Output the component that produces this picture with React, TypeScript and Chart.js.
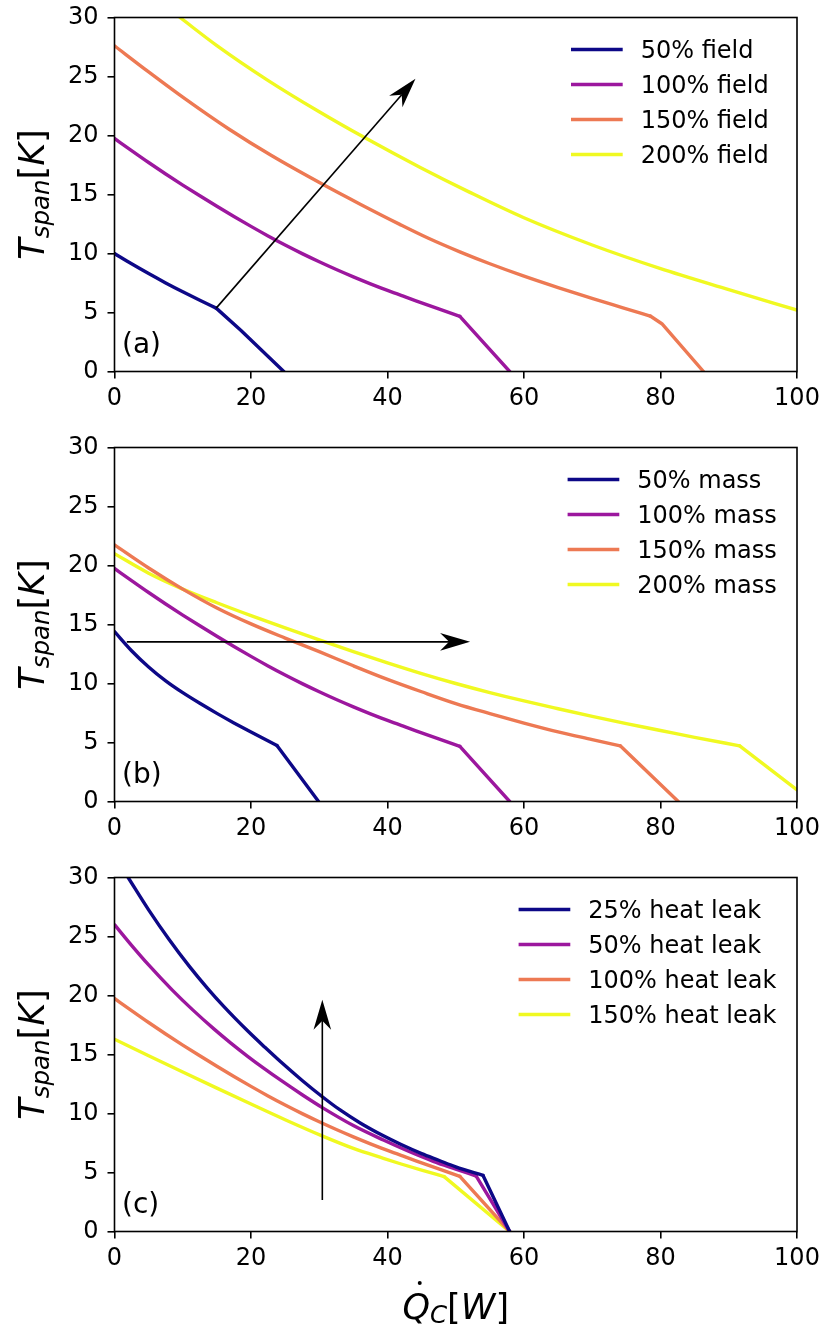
import { useEffect, useRef } from "react";
import { Chart, registerables } from "chart.js";

Chart.register(...registerables);

// ---------- colours (plasma colormap samples) ----------
const COLORS = ["#0d0887", "#9c179e", "#ed7953", "#f0f921"];

// ---------- ticks ----------
const X_TICKS = [0, 20, 40, 60, 80, 100];
const Y_TICKS = [0, 5, 10, 15, 20, 25, 30];

// ---------- shared reference curve (100 %) ----------
const Q_100 = [0, 2.5, 5, 7.5, 10, 12.5, 15, 17.5, 20, 22.5, 25, 27.5, 30, 32.5, 35, 37.5, 40, 42.5, 45, 47.5, 50.6];
const T_100 = [19.75, 18.72, 17.71, 16.74, 15.8, 14.89, 14.0, 13.14, 12.3, 11.49, 10.72, 9.99, 9.3, 8.64, 8.02, 7.43, 6.87, 6.34, 5.82, 5.3, 4.68];
const Q_100_TAIL = [50.6, 57.9];
const T_100_TAIL = [4.68, 0];

// ---------- panel (a): field ----------
const FIELD_LABELS = ["50% field", "100% field", "150% field", "200% field"];
const FIELD_50_Q = [0, 2.5, 5, 7.5, 10, 12.5, 14.9];
const FIELD_50_T = [10, 9.125, 8.3, 7.51, 6.76, 6.04, 5.37];
const FIELD_50_TAIL_Q = [14.9, 18.5, 24.8];
const FIELD_50_TAIL_T = [5.37, 3.5, 0];
const FIELD_150_Q = [0, 5, 10, 16.8, 23, 30.7, 36, 41.8, 46, 50.6, 55, 59.9, 65, 70.2, 74.5, 78.5];
const FIELD_150_T = [27.6, 25.39, 23.25, 20.53, 18.3, 15.8, 14.18, 12.47, 11.29, 10.14, 9.13, 8.1, 7.11, 6.15, 5.4, 4.7];
const FIELD_150_TAIL_Q = [78.5, 80.2, 86.3];
const FIELD_150_TAIL_T = [4.7, 4.05, 0];
const FIELD_200_Q = [9.6, 15, 22.3, 30, 36.7, 44.8, 52, 59.9, 70, 79.9, 90, 100];
const FIELD_200_T = [30, 27.62, 24.74, 22.01, 19.8, 17.29, 15.2, 13.05, 10.72, 8.74, 6.94, 5.2];
const ARROW_A_FROM = [14.9, 5.37];
const ARROW_A_TO = [44.1, 24.8];

// ---------- panel (b): mass ----------
const MASS_LABELS = ["50% mass", "100% mass", "150% mass", "200% mass"];
const MASS_50_Q = [0, 2.5, 5, 7.5, 10, 12.5, 15, 17.5, 20, 23.8];
const MASS_50_T = [14.4, 12.78, 11.4, 10.22, 9.22, 8.32, 7.47, 6.66, 5.88, 4.74];
const MASS_50_TAIL_Q = [23.8, 29.9];
const MASS_50_TAIL_T = [4.74, 0];
const MASS_150_Q = [0, 5, 10, 15, 20, 25, 30, 35, 40, 45, 50, 55, 60, 65, 70, 74.1];
const MASS_150_T = [21.75, 19.79, 18.0, 16.4, 15.05, 13.85, 12.7, 11.5, 10.35, 9.3, 8.3, 7.45, 6.65, 5.9, 5.25, 4.72];
const MASS_150_TAIL_Q = [74.1, 82.6];
const MASS_150_TAIL_T = [4.72, 0];
const MASS_200_Q = [0, 5, 10, 15, 20, 25, 30, 35, 40, 45, 50, 55, 60, 65, 70, 75, 80, 85, 91.6];
const MASS_200_T = [21.0, 19.35, 18.0, 16.84, 15.75, 14.71, 13.7, 12.71, 11.75, 10.84, 10.0, 9.23, 8.52, 7.86, 7.22, 6.6, 6.02, 5.43, 4.72];
const MASS_200_TAIL_Q = [91.6, 100];
const MASS_200_TAIL_T = [4.72, 0.99];
const ARROW_B_FROM = [1.8, 13.53];
const ARROW_B_TO = [52.1, 13.53];

// ---------- panel (c): heat leak ----------
const LEAK_LABELS = ["25% heat leak", "50% heat leak", "100% heat leak", "150% heat leak"];
const LEAK_25_Q = [2, 5, 8, 11, 13.6, 16, 19.46, 22, 24.35, 27.5, 30.45, 33, 36, 39.4, 42, 45, 47.5, 50, 54];
const LEAK_25_T = [30, 27.26, 24.75, 22.45, 20.63, 19.08, 17.03, 15.63, 14.38, 12.8, 11.42, 10.32, 9.2, 8.11, 7.37, 6.6, 6.04, 5.48, 4.75];
const LEAK_25_TAIL_Q = [54, 57.9];
const LEAK_25_TAIL_T = [4.75, 0];
const LEAK_50_Q = [0, 2.5, 5, 8.47, 11.5, 14.6, 17, 19.46, 22, 24.35, 27.5, 30.45, 35, 39.4, 43, 46.7, 50, 53];
const LEAK_50_T = [26.0, 24.25, 22.59, 20.46, 18.76, 17.15, 15.99, 14.87, 13.78, 12.82, 11.59, 10.5, 8.98, 7.75, 6.82, 5.95, 5.29, 4.7];
const LEAK_50_TAIL_Q = [53, 57.9];
const LEAK_50_TAIL_T = [4.7, 0];
const LEAK_150_Q = [0, 5, 10, 15, 20, 25, 30.5, 35, 39.4, 42, 45, 48.3];
const LEAK_150_T = [16.3, 14.9, 13.52, 12.15, 10.8, 9.47, 8.08, 7.04, 6.2, 5.72, 5.2, 4.65];
const LEAK_150_TAIL_Q = [48.3, 57.9];
const LEAK_150_TAIL_T = [4.65, 0];
const ARROW_C_FROM = [30.45, 2.67];
const ARROW_C_TO = [30.45, 19.65];

type Series = { label: string; q: number[]; t: number[]; tq: number[]; tt: number[] };
type PanelDef = {
  tag: string;
  height: number;
  series: Series[];
  arrowFrom: number[];
  arrowTo: number[];
  legendTextX: number;
  xTitle: boolean;
};

const PANELS: PanelDef[] = [
  {
    tag: "(a)",
    height: 430,
    series: [
      { label: FIELD_LABELS[0], q: FIELD_50_Q, t: FIELD_50_T, tq: FIELD_50_TAIL_Q, tt: FIELD_50_TAIL_T },
      { label: FIELD_LABELS[1], q: Q_100, t: T_100, tq: Q_100_TAIL, tt: T_100_TAIL },
      { label: FIELD_LABELS[2], q: FIELD_150_Q, t: FIELD_150_T, tq: FIELD_150_TAIL_Q, tt: FIELD_150_TAIL_T },
      { label: FIELD_LABELS[3], q: FIELD_200_Q, t: FIELD_200_T, tq: [], tt: [] },
    ],
    arrowFrom: ARROW_A_FROM,
    arrowTo: ARROW_A_TO,
    legendTextX: 640.7,
    xTitle: false,
  },
  {
    tag: "(b)",
    height: 430,
    series: [
      { label: MASS_LABELS[0], q: MASS_50_Q, t: MASS_50_T, tq: MASS_50_TAIL_Q, tt: MASS_50_TAIL_T },
      { label: MASS_LABELS[1], q: Q_100, t: T_100, tq: Q_100_TAIL, tt: T_100_TAIL },
      { label: MASS_LABELS[2], q: MASS_150_Q, t: MASS_150_T, tq: MASS_150_TAIL_Q, tt: MASS_150_TAIL_T },
      { label: MASS_LABELS[3], q: MASS_200_Q, t: MASS_200_T, tq: MASS_200_TAIL_Q, tt: MASS_200_TAIL_T },
    ],
    arrowFrom: ARROW_B_FROM,
    arrowTo: ARROW_B_TO,
    legendTextX: 637.3,
    xTitle: false,
  },
  {
    tag: "(c)",
    height: 470,
    series: [
      { label: LEAK_LABELS[0], q: LEAK_25_Q, t: LEAK_25_T, tq: LEAK_25_TAIL_Q, tt: LEAK_25_TAIL_T },
      { label: LEAK_LABELS[1], q: LEAK_50_Q, t: LEAK_50_T, tq: LEAK_50_TAIL_Q, tt: LEAK_50_TAIL_T },
      { label: LEAK_LABELS[2], q: Q_100, t: T_100, tq: Q_100_TAIL, tt: T_100_TAIL },
      { label: LEAK_LABELS[3], q: LEAK_150_Q, t: LEAK_150_T, tq: LEAK_150_TAIL_Q, tt: LEAK_150_TAIL_T },
    ],
    arrowFrom: ARROW_C_FROM,
    arrowTo: ARROW_C_TO,
    legendTextX: 588.3,
    xTitle: true,
  },
];

const FONT = "'DejaVu Sans', 'Liberation Sans', sans-serif";
const WIDTH = 823;
const PAD_TOP = 17.5;
const PLOT_H = 354;
const AXIS_LEFT = 114.5;
const PAD_RIGHT = 26;
const LINE_W = 3.4;

type Part = { s: string; italic?: boolean; sub?: boolean };

function partFont(p: Part, size: number) {
  const sz = p.sub ? size * 0.7 : size;
  return `${p.italic ? "italic " : ""}${sz}px ${FONT}`;
}

function mathWidth(ctx: CanvasRenderingContext2D, parts: Part[], size: number) {
  let w = 0;
  for (const p of parts) {
    ctx.font = partFont(p, size);
    w += ctx.measureText(p.s).width;
  }
  return w;
}

function drawMath(ctx: CanvasRenderingContext2D, parts: Part[], size: number, x0: number, subDrop: number) {
  let x = x0;
  const starts: number[] = [];
  for (const p of parts) {
    ctx.font = partFont(p, size);
    ctx.textBaseline = "alphabetic";
    ctx.textAlign = "left";
    starts.push(x);
    ctx.fillText(p.s, x, p.sub ? subDrop : 0);
    x += ctx.measureText(p.s).width;
  }
  return starts;
}

function drawArrow(ctx: CanvasRenderingContext2D, x0: number, y0: number, x1: number, y1: number) {
  const ang = Math.atan2(y1 - y0, x1 - x0);
  const L = 30, W = 8.8, N = 21;
  const ux = Math.cos(ang), uy = Math.sin(ang);
  const px = -uy, py = ux;
  const nx = x1 - ux * N, ny = y1 - uy * N;
  ctx.strokeStyle = "#000";
  ctx.fillStyle = "#000";
  ctx.lineWidth = 1.6;
  ctx.beginPath();
  ctx.moveTo(x0, y0);
  ctx.lineTo(nx, ny);
  ctx.stroke();
  ctx.beginPath();
  ctx.moveTo(x1, y1);
  ctx.lineTo(x1 - ux * L + px * W, y1 - uy * L + py * W);
  ctx.lineTo(nx, ny);
  ctx.lineTo(x1 - ux * L - px * W, y1 - uy * L - py * W);
  ctx.closePath();
  ctx.fill();
}

function makeDecor(panel: PanelDef) {
  return {
    id: "decor",
    afterDatasetsDraw(chart: any) {
      const { ctx, chartArea: a, scales } = chart;
      const xs = scales.x, ys = scales.y;
      ctx.save();
      // spines
      ctx.strokeStyle = "#000";
      ctx.lineWidth = 1.6;
      ctx.strokeRect(a.left, a.top, a.right - a.left, a.bottom - a.top);
      // arrow
      drawArrow(
        ctx,
        xs.getPixelForValue(panel.arrowFrom[0]),
        ys.getPixelForValue(panel.arrowFrom[1]),
        xs.getPixelForValue(panel.arrowTo[0]),
        ys.getPixelForValue(panel.arrowTo[1])
      );
      // panel tag
      ctx.fillStyle = "#000";
      ctx.font = `28px ${FONT}`;
      ctx.textAlign = "left";
      ctx.textBaseline = "alphabetic";
      ctx.fillText(panel.tag, a.left + 7.5, a.bottom - 18.5);
      // legend
      ctx.font = `24px ${FONT}`;
      panel.series.forEach((s, i) => {
        const rowY = a.top + 32 + 35 * i;
        ctx.strokeStyle = COLORS[i];
        ctx.lineWidth = LINE_W;
        ctx.lineCap = "butt";
        ctx.beginPath();
        ctx.moveTo(panel.legendTextX - 69.7, rowY);
        ctx.lineTo(panel.legendTextX - 18, rowY);
        ctx.stroke();
        ctx.fillStyle = "#000";
        ctx.fillText(s.label, panel.legendTextX, rowY + 8.9);
      });
      // y title
      const yParts: Part[] = [
        { s: "T", italic: true },
        { s: "span", italic: true, sub: true },
        { s: "[" },
        { s: "K", italic: true },
        { s: "]" },
      ];
      const size = 35;
      const yw = mathWidth(ctx, yParts, size);
      ctx.save();
      ctx.translate(44, (a.top + a.bottom) / 2);
      ctx.rotate(-Math.PI / 2);
      ctx.fillStyle = "#000";
      drawMath(ctx, yParts, size, -yw / 2, 5);
      ctx.restore();
      // x title
      if (panel.xTitle) {
        const xParts: Part[] = [
          { s: "Q", italic: true },
          { s: "C", italic: true, sub: true },
          { s: "[" },
          { s: "W", italic: true },
          { s: "]" },
        ];
        const xw = mathWidth(ctx, xParts, size);
        ctx.save();
        ctx.translate((a.left + a.right) / 2, a.bottom + 87.5);
        ctx.fillStyle = "#000";
        const starts = drawMath(ctx, xParts, size, -xw / 2, 4);
        ctx.font = partFont(xParts[0], size);
        const qw = ctx.measureText("Q").width;
        ctx.beginPath();
        ctx.arc(starts[0] + qw * 0.5 + 3.5, -36, 2, 0, Math.PI * 2);
        ctx.fill();
        ctx.restore();
      }
      ctx.restore();
    },
  };
}

function Panel({ panel }: { panel: PanelDef }) {
  const ref = useRef<HTMLCanvasElement>(null);
  useEffect(() => {
    if (!ref.current) return;
    const datasets: any[] = [];
    panel.series.forEach((s, i) => {
      const base = {
        borderColor: COLORS[i],
        backgroundColor: COLORS[i],
        borderWidth: LINE_W,
        pointRadius: 0,
        pointHoverRadius: 0,
        showLine: true,
        fill: false,
        borderCapStyle: "round",
        borderJoinStyle: "round",
      };
      datasets.push({
        ...base,
        label: s.label,
        data: s.q.map((q, j) => ({ x: q, y: s.t[j] })),
        cubicInterpolationMode: "monotone",
      });
      if (s.tq.length) {
        datasets.push({
          ...base,
          label: s.label + " (tail)",
          data: s.tq.map((q, j) => ({ x: q, y: s.tt[j] })),
          tension: 0,
        });
      }
    });
    const xAxisH = panel.height - PAD_TOP - PLOT_H;
    const chart = new Chart(ref.current, {
      type: "scatter",
      data: { datasets },
      plugins: [makeDecor(panel)],
      options: {
        animation: false,
        responsive: false,
        devicePixelRatio: 1,
        events: [],
        layout: { padding: { top: PAD_TOP, right: PAD_RIGHT, left: 0, bottom: 0 } },
        plugins: { legend: { display: false }, tooltip: { enabled: false } },
        scales: {
          x: {
            type: "linear",
            min: 0,
            max: 100,
            afterBuildTicks: (s: any) => {
              s.ticks = X_TICKS.map((v) => ({ value: v }));
            },
            afterFit: (s: any) => {
              s.height = xAxisH;
              s.paddingLeft = 0;
              s.paddingRight = 0;
            },
            ticks: { color: "#000", font: { family: FONT, size: 24 }, padding: 6, maxRotation: 0, autoSkip: false },
            grid: { drawOnChartArea: false, drawTicks: true, tickLength: 7, color: "#000", lineWidth: 1.6 },
            border: { display: false },
          },
          y: {
            type: "linear",
            min: 0,
            max: 30,
            afterBuildTicks: (s: any) => {
              s.ticks = Y_TICKS.map((v) => ({ value: v }));
            },
            afterFit: (s: any) => {
              s.width = AXIS_LEFT;
              s.paddingTop = 0;
              s.paddingBottom = 0;
            },
            ticks: { color: "#000", font: { family: FONT, size: 24 }, padding: 9, autoSkip: false },
            grid: { drawOnChartArea: false, drawTicks: true, tickLength: 7, color: "#000", lineWidth: 1.6 },
            border: { display: false },
          },
        },
      },
    } as any);
    return () => chart.destroy();
  }, [panel]);
  return <canvas ref={ref} width={WIDTH} height={panel.height} style={{ display: "block", width: WIDTH, height: panel.height }} />;
}

export default function App() {
  return (
    <div style={{ position: "absolute", left: 0, top: 0, width: WIDTH, height: 1330, background: "#fff" }}>
      {PANELS.map((p) => (
        <Panel key={p.tag} panel={p} />
      ))}
    </div>
  );
}
